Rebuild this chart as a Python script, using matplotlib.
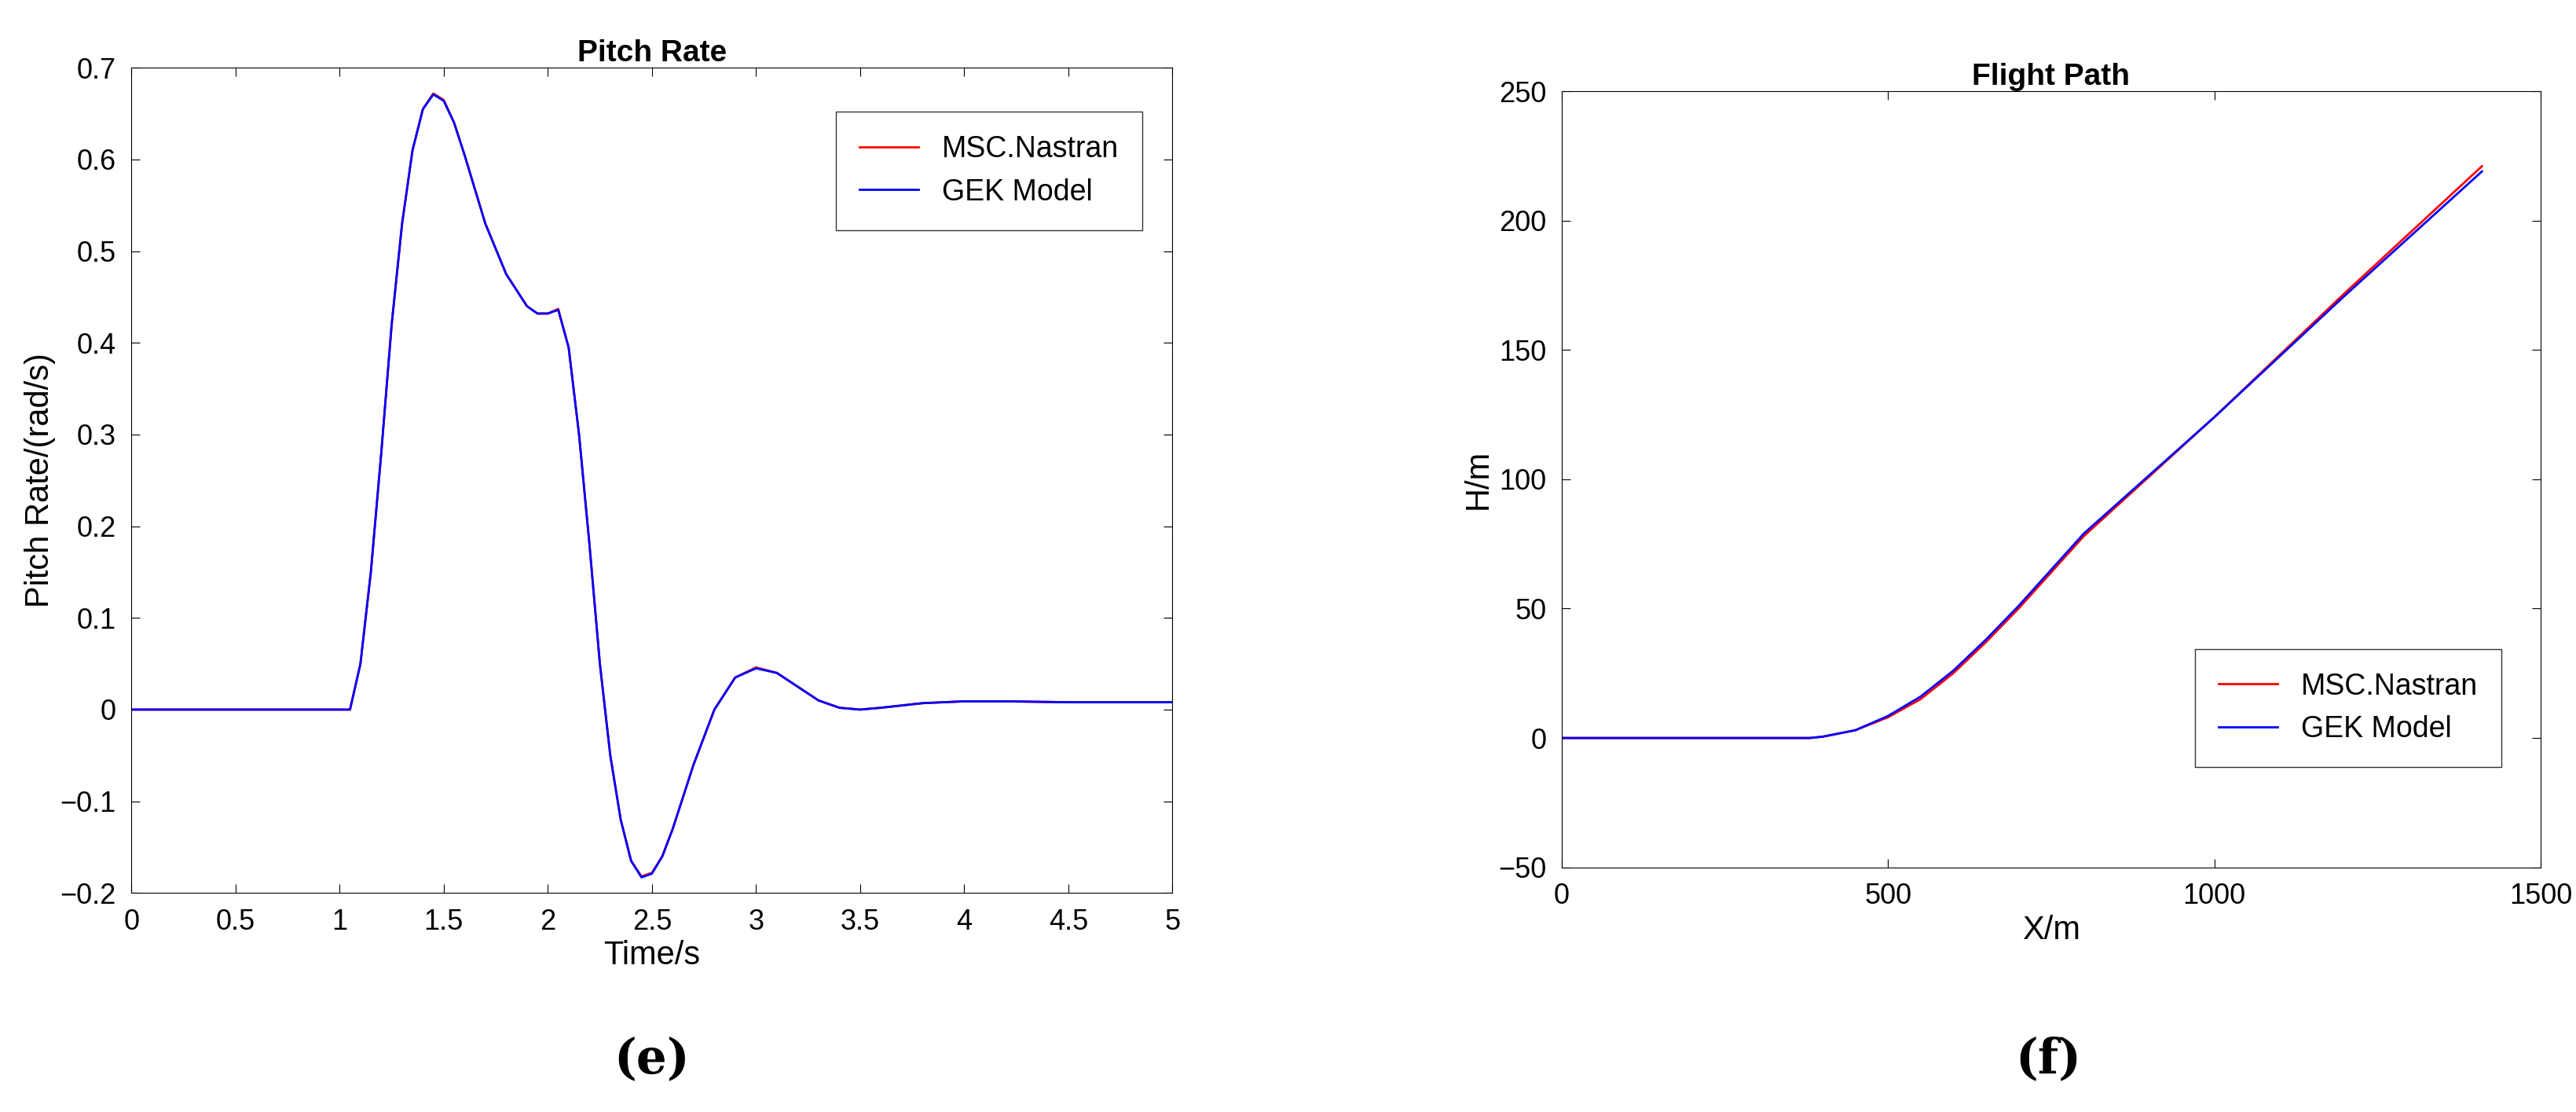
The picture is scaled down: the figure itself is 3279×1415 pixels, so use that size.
import matplotlib.pyplot as plt

plt.rcParams["font.family"] = ["Liberation Sans", "DejaVu Sans"]

# Pitch rate history
t = [0, 1.05, 1.1, 1.15, 1.2, 1.25, 1.3, 1.35, 1.4, 1.45, 1.5, 1.55, 1.6, 1.7, 1.8,
     1.9, 1.95, 2.0, 2.05, 2.1, 2.15, 2.2, 2.25, 2.3, 2.35, 2.4, 2.45, 2.5, 2.55, 2.6,
     2.7, 2.8, 2.9, 3.0, 3.1, 3.2, 3.3, 3.4, 3.5, 3.6, 3.8, 4.0, 4.2, 4.5, 5.0]
q_nastran = [0, 0, 0.05, 0.15, 0.28, 0.42, 0.53, 0.61, 0.655, 0.672, 0.665, 0.64, 0.605,
             0.53, 0.475, 0.44, 0.432, 0.432, 0.437, 0.395, 0.30, 0.18, 0.05, -0.05,
             -0.12, -0.165, -0.182, -0.178, -0.16, -0.13, -0.06, 0.0, 0.035, 0.046,
             0.04, 0.025, 0.01, 0.002, 0.0, 0.002, 0.007, 0.009, 0.009, 0.008, 0.008]
q_gek = [0, 0, 0.05, 0.15, 0.28, 0.42, 0.53, 0.61, 0.655, 0.671, 0.664, 0.64, 0.605,
         0.53, 0.475, 0.44, 0.432, 0.432, 0.436, 0.395, 0.30, 0.18, 0.05, -0.05,
         -0.12, -0.165, -0.183, -0.179, -0.16, -0.13, -0.06, 0.0, 0.035, 0.045,
         0.04, 0.025, 0.01, 0.002, 0.0, 0.002, 0.007, 0.009, 0.009, 0.008, 0.008]
q_ticks = [-0.2, -0.1, 0, 0.1, 0.2, 0.3, 0.4, 0.5, 0.6, 0.7]
q_labels = ["\u22120.2", "\u22120.1", "0", "0.1", "0.2", "0.3", "0.4", "0.5", "0.6", "0.7"]

# Flight path
x_pos = [0, 380, 400, 450, 500, 550, 600, 650, 700, 750, 800, 1000, 1200, 1410]
h_nastran = [0, 0, 0.5, 3, 8, 15, 25, 37, 50, 64, 78, 124, 172, 221]
h_gek = [0, 0, 0.5, 3, 8.5, 16, 26, 38, 51, 65, 79, 124, 171, 219]

fig = plt.figure(figsize=(32.8, 14.15), dpi=100)

ax1 = fig.add_axes([0.051, 0.197, 0.404, 0.742])
ax1.plot(t, q_nastran, color="red", linewidth=2, label="MSC.Nastran")
ax1.plot(t, q_gek, color="blue", linewidth=2, label="GEK Model")
ax1.set_xlim(0, 5)
ax1.set_ylim(-0.2, 0.7)
ax1.set_xticks([0, 0.5, 1, 1.5, 2, 2.5, 3, 3.5, 4, 4.5, 5])
ax1.set_xticklabels(["0", "0.5", "1", "1.5", "2", "2.5", "3", "3.5", "4", "4.5", "5"])
ax1.set_yticks(q_ticks)
ax1.set_yticklabels(q_labels)
ax1.set_xlabel("Time/s", fontsize=30)
ax1.set_ylabel("Pitch Rate/(rad/s)", fontsize=30)
ax1.set_title("Pitch Rate", fontsize=28, fontweight="bold")
ax1.legend(loc="upper right", bbox_to_anchor=(0.985, 0.965), fontsize=27,
           fancybox=False, edgecolor="black", borderpad=0.8)

ax2 = fig.add_axes([0.606, 0.22, 0.38, 0.698])
ax2.plot(x_pos, h_nastran, color="red", linewidth=2, label="MSC.Nastran")
ax2.plot(x_pos, h_gek, color="blue", linewidth=2, label="GEK Model")
ax2.set_xlim(0, 1500)
ax2.set_ylim(-50, 250)
ax2.set_xticks([0, 500, 1000, 1500])
ax2.set_yticks([-50, 0, 50, 100, 150, 200, 250])
ax2.set_xlabel("X/m", fontsize=30)
ax2.set_ylabel("H/m", fontsize=30)
ax2.set_title("Flight Path", fontsize=28, fontweight="bold")
ax2.legend(loc="lower right", bbox_to_anchor=(0.975, 0.11), fontsize=27,
           fancybox=False, edgecolor="black", borderpad=0.8)

for ax in (ax1, ax2):
    ax.tick_params(direction="in", top=True, right=True, labelsize=26, length=8, pad=14)

fig.text(0.253, 0.035, "(e)", fontsize=44, fontweight="bold", family="DejaVu Serif",
         ha="center")
fig.text(0.795, 0.035, "(f)", fontsize=44, fontweight="bold", family="DejaVu Serif",
         ha="center")

fig.savefig("out.png")
